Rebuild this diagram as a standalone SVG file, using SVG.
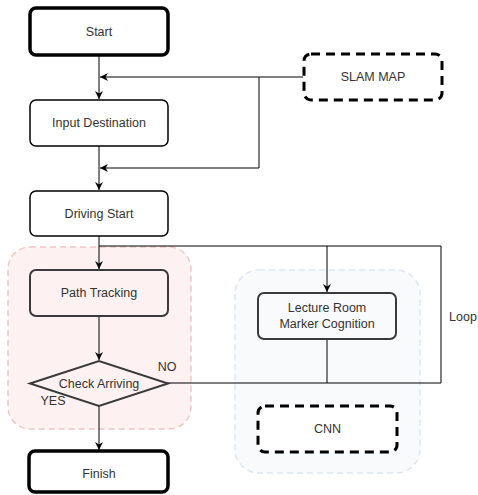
<svg xmlns="http://www.w3.org/2000/svg" width="478" height="495" viewBox="0 0 478 495">
<style>
.t{font-family:"Liberation Sans",Arial,sans-serif;font-size:12.5px;fill:#333;text-anchor:middle;dominant-baseline:central}
.n{fill:#fff;stroke:#000;stroke-width:1.5}
.thick{fill:#fff;stroke:#000;stroke-width:3.5}
.dash{fill:#fff;stroke:#000;stroke-width:3;stroke-dasharray:9 6}
.inner{fill:none;stroke:#3a3a3a;stroke-width:2}
.c{fill:none;stroke:#000;stroke-width:1}
</style>
<defs>
<marker id="ah" viewBox="0 0 10 10" refX="10" refY="5" markerWidth="8" markerHeight="8" orient="auto" markerUnits="userSpaceOnUse">
<path d="M0,0 L10,5 L0,10 L3,5 Z" fill="#000"/>
</marker>
</defs>
<g id="group-pink">
<rect x="8" y="247" width="183" height="182" rx="22" fill="#fdf2f1" stroke="#f0c6c6" stroke-width="1.5" stroke-dasharray="6 4"/>
</g>
<g id="group-blue">
<rect x="235" y="270" width="185" height="203" rx="24" fill="#f9fafc" stroke="#dfe6f1" stroke-width="1.5" stroke-dasharray="6 4"/>
</g>
<g id="connectors">
<line class="c" x1="99" y1="55" x2="99" y2="99" marker-end="url(#ah)"/>
<line class="c" x1="99" y1="146" x2="99" y2="190" marker-end="url(#ah)"/>
<polyline class="c" points="303,77 259,77 259,168"/>
<line class="c" x1="259" y1="77" x2="100" y2="77" marker-end="url(#ah)"/>
<line class="c" x1="259" y1="168" x2="100" y2="168" marker-end="url(#ah)"/>
<polyline class="c" points="99,236 99,246 441,246 441,383 167,383"/>
<line class="c" x1="99" y1="246" x2="99" y2="269" marker-end="url(#ah)"/>
<line class="c" x1="327" y1="246" x2="327" y2="292" marker-end="url(#ah)"/>
<line class="c" x1="327" y1="339" x2="327" y2="383"/>
<line class="c" x1="99" y1="316" x2="99" y2="360" marker-end="url(#ah)"/>
<line class="c" x1="99" y1="406" x2="99" y2="450" marker-end="url(#ah)"/>
</g>
<g id="start">
<rect class="thick" x="30" y="8" width="138" height="47" rx="6"/>
<text class="t" x="99" y="32">Start</text>
</g>
<g id="slam-map">
<rect class="dash" x="304" y="54" width="138" height="46" rx="7"/>
<text class="t" x="373" y="77">SLAM MAP</text>
</g>
<g id="input-destination">
<rect class="n" x="30" y="100" width="138" height="46" rx="6"/>
<text class="t" x="99" y="123">Input Destination</text>
</g>
<g id="driving-start">
<rect class="n" x="30" y="191" width="138" height="45" rx="6"/>
<text class="t" x="99" y="213.5">Driving Start</text>
</g>
<g id="path-tracking">
<rect class="inner" x="30" y="270" width="138" height="46" rx="6"/>
<text class="t" x="99" y="293">Path Tracking</text>
</g>
<g id="check-arriving">
<polygon class="inner" points="30,383.5 99,361 168,383.5 99,406"/>
<text class="t" x="99" y="383.5">Check Arriving</text>
<text class="t" x="167" y="367">NO</text>
<text class="t" x="53" y="401">YES</text>
</g>
<g id="lecture-room">
<rect class="inner" x="258" y="293" width="138" height="46" rx="6"/>
<text class="t" x="327" y="308">Lecture Room</text>
<text class="t" x="327" y="324">Marker Cognition</text>
</g>
<g id="cnn">
<rect class="dash" x="258" y="406" width="139" height="46" rx="7"/>
<text class="t" x="327.5" y="429">CNN</text>
</g>
<g id="loop-label">
<text class="t" x="463" y="317">Loop</text>
</g>
<g id="finish">
<rect class="thick" x="29" y="451" width="139" height="41" rx="6"/>
<text class="t" x="99" y="474">Finish</text>
</g>
</svg>
